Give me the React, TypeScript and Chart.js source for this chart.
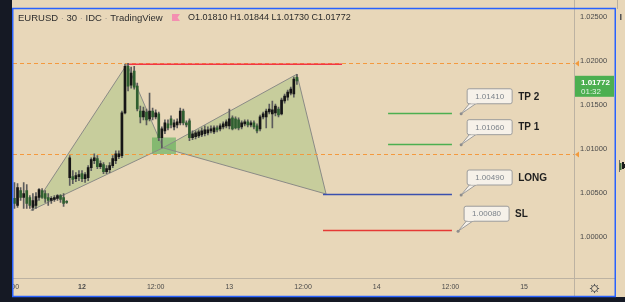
import React, { useEffect, useRef } from 'react';
import { Chart, registerables } from 'chart.js';

Chart.register(...registerables);

// ---------- data ----------
const SYMBOL_PARTS = ['EURUSD', '30', 'IDC', 'TradingView'];
const OHLC_TEXT = 'O1.01810 H1.01844 L1.01730 C1.01772';
const FIRST_SLOT = -22; // half-hour slots counted from 12 Oct 00:00

const opens = [
  1.0044, 1.00361, 1.0053, 1.00451, 1.0053, 1.00451, 1.00338, 1.00361, 1.00451, 1.0053,
  1.00496, 1.00451, 1.00417, 1.00428, 1.0044, 1.00473, 1.00451, 1.00406, 1.00676, 1.00687,
  1.00665, 1.00687, 1.00721, 1.00665, 1.00676, 1.00789, 1.00867, 1.0089, 1.008, 1.00822,
  1.00744, 1.00766, 1.00811, 1.00867, 1.00912, 1.00924, 1.01408, 1.01937, 1.01723, 1.01881,
  1.01712, 1.0143, 1.01363, 1.01419, 1.0134, 1.0143, 1.01363, 1.01397, 1.01127, 1.01205,
  1.01284, 1.0134, 1.0125, 1.01273, 1.01295, 1.0143, 1.01295, 1.01318, 1.01127, 1.01138,
  1.01149, 1.0116, 1.01172, 1.01183, 1.01205, 1.01194, 1.01239, 1.01228, 1.0125, 1.01262,
  1.01262, 1.01352, 1.0134, 1.01329, 1.0125, 1.01284, 1.01307, 1.01273, 1.01295, 1.01262,
  1.01228, 1.01363, 1.01363, 1.01419, 1.01397, 1.01408, 1.01453, 1.01397, 1.01543, 1.01588,
  1.01633, 1.01622, 1.0181,
];
const highs = [
  1.0062, 1.00608, 1.00563, 1.0062, 1.00597, 1.00473, 1.00496, 1.00507, 1.00552, 1.00552,
  1.0053, 1.00496, 1.00462, 1.00473, 1.00485, 1.00485, 1.00496, 1.00417, 1.00924, 1.00755,
  1.00732, 1.00755, 1.00755, 1.00732, 1.00811, 1.00901, 1.00946, 1.00924, 1.00867, 1.00845,
  1.00811, 1.00845, 1.00924, 1.0098, 1.0098, 1.0143, 1.0196, 1.01971, 1.01926, 1.01937,
  1.01746, 1.01487, 1.01475, 1.01453, 1.01633, 1.01464, 1.01442, 1.01419, 1.0125, 1.01329,
  1.01329, 1.01374, 1.01329, 1.0134, 1.01464, 1.01453, 1.01318, 1.0134, 1.01205, 1.01205,
  1.01217, 1.01239, 1.01262, 1.0125, 1.01262, 1.01262, 1.01262, 1.01284, 1.01307, 1.01329,
  1.01453, 1.01374, 1.01363, 1.01352, 1.01318, 1.01329, 1.01329, 1.01318, 1.01318, 1.01284,
  1.01385, 1.01419, 1.01453, 1.01509, 1.01543, 1.01509, 1.01475, 1.01577, 1.01622, 1.01667,
  1.01701, 1.01813, 1.01844,
];
const lows = [
  1.00327, 1.00338, 1.00417, 1.00327, 1.00327, 1.00327, 1.00304, 1.00327, 1.00417, 1.0044,
  1.00395, 1.00361, 1.00383, 1.00406, 1.00417, 1.00395, 1.0035, 1.00383, 1.00586, 1.00608,
  1.00631, 1.00642, 1.00631, 1.0062, 1.00642, 1.00755, 1.00834, 1.00777, 1.00777, 1.00721,
  1.00721, 1.00732, 1.00789, 1.00834, 1.0089, 1.00901, 1.01397, 1.01656, 1.01689, 1.01678,
  1.0143, 1.01295, 1.01329, 1.01273, 1.01318, 1.01329, 1.0134, 1.01093, 1.01013, 1.01172,
  1.01217, 1.01239, 1.01217, 1.01239, 1.01273, 1.01273, 1.0125, 1.01093, 1.01104, 1.01115,
  1.01127, 1.01138, 1.01149, 1.0116, 1.01183, 1.01172, 1.01194, 1.01205, 1.01228, 1.01239,
  1.01228, 1.01217, 1.01228, 1.01217, 1.01228, 1.01262, 1.0125, 1.0125, 1.01228, 1.01183,
  1.01205, 1.0134, 1.01239, 1.01397, 1.01239, 1.01374, 1.01363, 1.01385, 1.0152, 1.01554,
  1.01611, 1.01588, 1.0173,
];
const closes = [
  1.00383, 1.00563, 1.00451, 1.00496, 1.00383, 1.00361, 1.00417, 1.00462, 1.00541, 1.00451,
  1.0044, 1.00417, 1.0044, 1.00451, 1.00473, 1.00428, 1.00383, 1.00395, 1.00901, 1.00654,
  1.00699, 1.0071, 1.00665, 1.0071, 1.00789, 1.00879, 1.00901, 1.008, 1.00834, 1.00744,
  1.00777, 1.00811, 1.0089, 1.00946, 1.00946, 1.01408, 1.01937, 1.01712, 1.01858, 1.01701,
  1.01453, 1.01363, 1.0143, 1.01329, 1.0143, 1.01363, 1.01408, 1.01127, 1.01228, 1.01295,
  1.01239, 1.01273, 1.01295, 1.01307, 1.0143, 1.01295, 1.01273, 1.01127, 1.01172, 1.01183,
  1.01194, 1.01205, 1.01217, 1.01217, 1.01228, 1.01239, 1.01217, 1.01262, 1.01284, 1.01307,
  1.0134, 1.01228, 1.01239, 1.01239, 1.01295, 1.01307, 1.01273, 1.01295, 1.0125, 1.01205,
  1.01363, 1.01397, 1.0143, 1.01453, 1.01442, 1.01487, 1.01385, 1.01554, 1.01599, 1.01644,
  1.01678, 1.01791, 1.01772,
];

const timeTickSlots = [-24, 0, 24, 48, 72, 96, 120, 144];
const timeTickLabels = ['12:00', '12', '12:00', '13', '12:00', '14', '12:00', '15'];
const priceTicks = [1.0, 1.005, 1.01, 1.015, 1.02, 1.025];
const X_MIN = -22.48;
const X_MAX = 160.26;
const Y_MIN = 0.99539;
const Y_MAX = 1.02568;

const lastPrice = 1.01772;
const lastPriceText = '1.01772';
const countdownText = '01:32';

// XABCD pattern points (slot, price)
const patternSlots = [-16.6, 14.66, 26.4, 70, 79.5];
const patternPrices = [1.00304, 1.0196, 1.01013, 1.01847, 1.0049];
const zoneSlots = [22.8, 30.6];
const zonePrices = [1.0113, 1.00943];
const highLineSlots = [14.66, 84.7];
const highLinePrice = 1.0196;
const alertPrices = [1.01968, 1.00946];

const levelNames = ['TP 2', 'TP 1', 'LONG', 'SL'];
const levelPrices = [1.0141, 1.0106, 1.0049, 1.0008];
const levelStartSlots = [99.7, 99.7, 78.5, 78.5];
const levelEndSlots = [120.5, 120.5, 120.5, 120.5];
const calloutSlots = [123.5, 123.5, 123.5, 122.5];

// ---------- styles ----------
const FONT = '"Liberation Sans", Arial, sans-serif';
const BG = '#e8d7b9';
const UP = '#161616';
const DOWN = '#2f5f30';
const WICK = '#5c5c5c';
const levelColors = ['#4caf50', '#4caf50', '#3a4fae', '#e53935'];

const slots = opens.map((_, k) => FIRST_SLOT + k);

const bgPlugin = {
  id: 'tvBackground',
  beforeDraw(chart: any) {
    const { ctx, width, height } = chart;
    ctx.save();
    ctx.fillStyle = BG;
    ctx.fillRect(0, 0, width, height);
    ctx.restore();
  },
};

const drawingsPlugin = {
  id: 'tvDrawings',
  beforeDatasetsDraw(chart: any) {
    const { ctx, chartArea: a, scales } = chart;
    const X = (v: number) => scales.x.getPixelForValue(v);
    const Y = (v: number) => scales.y.getPixelForValue(v);
    ctx.save();
    ctx.beginPath();
    ctx.rect(a.left, a.top, a.right - a.left, a.bottom - a.top);
    ctx.clip();

    const pts = patternSlots.map((s, i) => [X(s), Y(patternPrices[i])]);
    ctx.fillStyle = 'rgba(130,185,95,0.32)';
    [[0, 1, 2], [2, 3, 4]].forEach((tri) => {
      ctx.beginPath();
      ctx.moveTo(pts[tri[0]][0], pts[tri[0]][1]);
      ctx.lineTo(pts[tri[1]][0], pts[tri[1]][1]);
      ctx.lineTo(pts[tri[2]][0], pts[tri[2]][1]);
      ctx.closePath();
      ctx.fill();
    });

    // zone box at B
    const zx0 = X(zoneSlots[0]);
    const zx1 = X(zoneSlots[1]);
    const zy0 = Y(zonePrices[0]);
    const zy1 = Y(zonePrices[1]);
    ctx.fillStyle = 'rgba(76,170,76,0.55)';
    ctx.fillRect(zx0, zy0, zx1 - zx0, zy1 - zy0);

    // pattern edges
    ctx.strokeStyle = '#8b8b86';
    ctx.lineWidth = 1;
    [[0, 1], [1, 2], [2, 0], [2, 3], [3, 4], [4, 2]].forEach(([p, q]) => {
      ctx.beginPath();
      ctx.moveTo(pts[p][0], pts[p][1]);
      ctx.lineTo(pts[q][0], pts[q][1]);
      ctx.stroke();
    });

    // alert lines
    ctx.strokeStyle = 'rgba(244,150,55,0.95)';
    ctx.setLineDash([4, 3]);
    alertPrices.forEach((p) => {
      const yy = Math.round(Y(p)) + 0.5;
      ctx.beginPath();
      ctx.moveTo(a.left, yy);
      ctx.lineTo(a.right, yy);
      ctx.stroke();
    });
    ctx.setLineDash([]);

    // high line
    ctx.strokeStyle = '#f23645';
    ctx.lineWidth = 1.6;
    const hy = Y(highLinePrice);
    ctx.beginPath();
    ctx.moveTo(X(highLineSlots[0]), hy);
    ctx.lineTo(X(highLineSlots[1]), hy);
    ctx.stroke();

    // levels
    ctx.lineWidth = 1.3;
    levelPrices.forEach((p, i) => {
      const yy = Math.round(Y(p)) + 0.5;
      ctx.strokeStyle = levelColors[i];
      ctx.beginPath();
      ctx.moveTo(X(levelStartSlots[i]), yy);
      ctx.lineTo(X(levelEndSlots[i]), yy);
      ctx.stroke();
    });
    ctx.restore();
  },
  afterDatasetsDraw(chart: any) {
    const { ctx, scales } = chart;
    const X = (v: number) => scales.x.getPixelForValue(v);
    const Y = (v: number) => scales.y.getPixelForValue(v);
    ctx.save();
    levelPrices.forEach((p, i) => {
      const dx = X(calloutSlots[i]);
      const dy = Y(p) + 1;
      const bx = dx + 6;
      const by = dy - 25;
      const bw = 45;
      const bh = 15;
      // tail
      ctx.fillStyle = '#f6f1e9';
      ctx.strokeStyle = '#9c9c9c';
      ctx.lineWidth = 1;
      ctx.beginPath();
      ctx.moveTo(bx + 3, by + bh - 1);
      ctx.lineTo(dx, dy);
      ctx.lineTo(bx + 10, by + bh - 1);
      ctx.closePath();
      ctx.fill();
      ctx.stroke();
      // box
      ctx.beginPath();
      const r = 2;
      ctx.moveTo(bx + r, by);
      ctx.lineTo(bx + bw - r, by);
      ctx.quadraticCurveTo(bx + bw, by, bx + bw, by + r);
      ctx.lineTo(bx + bw, by + bh - r);
      ctx.quadraticCurveTo(bx + bw, by + bh, bx + bw - r, by + bh);
      ctx.lineTo(bx + r, by + bh);
      ctx.quadraticCurveTo(bx, by + bh, bx, by + bh - r);
      ctx.lineTo(bx, by + r);
      ctx.quadraticCurveTo(bx, by, bx + r, by);
      ctx.closePath();
      ctx.fill();
      ctx.stroke();
      // cover tail joint
      ctx.fillStyle = '#f6f1e9';
      ctx.fillRect(bx + 3.5, by + bh - 1.5, 6, 1.2);
      // dot
      ctx.fillStyle = '#8d8d8d';
      ctx.beginPath();
      ctx.arc(dx, dy, 1.5, 0, Math.PI * 2);
      ctx.fill();
      // text
      ctx.fillStyle = '#7b828a';
      ctx.font = `8px ${FONT}`;
      ctx.textAlign = 'center';
      ctx.textBaseline = 'middle';
      ctx.fillText(p.toFixed(5), bx + bw / 2, by + bh / 2 + 0.5);
      ctx.fillStyle = '#1e1e1e';
      ctx.font = `bold 10px ${FONT}`;
      ctx.textAlign = 'left';
      ctx.fillText(levelNames[i], bx + bw + 6, by + bh / 2 + 0.5);
    });
    ctx.restore();
  },
};

const framePlugin = {
  id: 'tvFrame',
  afterDraw(chart: any) {
    const { ctx, chartArea: a, scales, width, height } = chart;
    const X = (v: number) => scales.x.getPixelForValue(v);
    const Y = (v: number) => scales.y.getPixelForValue(v);
    ctx.save();

    // separators
    ctx.strokeStyle = '#bcb2a2';
    ctx.lineWidth = 1;
    ctx.beginPath();
    ctx.moveTo(a.right + 0.5, 0);
    ctx.lineTo(a.right + 0.5, 296);
    ctx.moveTo(a.left, a.bottom + 0.5);
    ctx.lineTo(615, a.bottom + 0.5);
    ctx.stroke();

    // partial time label on the left edge
    ctx.fillStyle = '#4a4a4a';
    ctx.font = `7px ${FONT}`;
    ctx.textAlign = 'center';
    ctx.textBaseline = 'middle';
    ctx.fillText(timeTickLabels[0], X(timeTickSlots[0]) + 2, 287);

    // header
    ctx.textAlign = 'left';
    ctx.textBaseline = 'middle';
    ctx.font = `9.5px ${FONT}`;
    let hx = 18;
    SYMBOL_PARTS.forEach((t, i) => {
      ctx.fillStyle = '#2e2e2e';
      ctx.fillText(t, hx, 18);
      hx += ctx.measureText(t).width;
      if (i < SYMBOL_PARTS.length - 1) {
        ctx.fillStyle = '#a09a90';
        ctx.fillText(' · ', hx, 18);
        hx += ctx.measureText(' · ').width;
      }
    });
    // flag
    ctx.fillStyle = '#f48fb1';
    ctx.beginPath();
    ctx.moveTo(172, 14);
    ctx.lineTo(180, 14);
    ctx.lineTo(177.5, 17.5);
    ctx.lineTo(180, 21);
    ctx.lineTo(172, 21);
    ctx.closePath();
    ctx.fill();
    ctx.fillStyle = '#2a2a2a';
    ctx.font = `9px ${FONT}`;
    ctx.fillText(OHLC_TEXT, 188, 18);

    // alert markers on the price axis
    ctx.fillStyle = '#f39a3c';
    alertPrices.forEach((p) => {
      const yy = Math.round(Y(p)) + 0.5;
      ctx.beginPath();
      ctx.moveTo(a.right + 1, yy);
      ctx.lineTo(a.right + 5, yy - 3);
      ctx.lineTo(a.right + 5, yy + 3);
      ctx.closePath();
      ctx.fill();
    });

    // last price label
    const ly = Y(lastPrice);
    ctx.fillStyle = '#4caf50';
    ctx.fillRect(a.right + 1, ly - 5, 39, 21);
    ctx.fillStyle = '#ffffff';
    ctx.font = `bold 8px ${FONT}`;
    ctx.fillText(lastPriceText, a.right + 7, ly + 1.5);
    ctx.fillStyle = 'rgba(255,255,255,0.85)';
    ctx.font = `8px ${FONT}`;
    ctx.fillText(countdownText, a.right + 7, ly + 11);

    // gear icon
    const gx = 594.5;
    const gy = 288.5;
    ctx.strokeStyle = '#555555';
    ctx.lineWidth = 1;
    ctx.beginPath();
    ctx.arc(gx, gy, 3, 0, Math.PI * 2);
    ctx.stroke();
    for (let k = 0; k < 8; k++) {
      const ang = (k * Math.PI) / 4;
      ctx.beginPath();
      ctx.moveTo(gx + Math.cos(ang) * 3, gy + Math.sin(ang) * 3);
      ctx.lineTo(gx + Math.cos(ang) * 4.6, gy + Math.sin(ang) * 4.6);
      ctx.stroke();
    }

    // neighbouring panel on the right
    ctx.fillStyle = BG;
    ctx.fillRect(616, 0, width - 616, height);
    ctx.strokeStyle = '#b8ae9e';
    ctx.beginPath();
    ctx.moveTo(617.5, 0);
    ctx.lineTo(617.5, 9);
    ctx.stroke();
    ctx.fillStyle = '#555555';
    ctx.fillRect(620, 14, 1.5, 6);
    ctx.fillStyle = '#6a6a6a';
    ctx.fillRect(619, 160, 1, 12);
    ctx.fillStyle = '#3e6e3e';
    ctx.fillRect(619.5, 163, 2, 7);
    ctx.fillStyle = '#1a1a1a';
    ctx.fillRect(622, 162, 2, 7);
    ctx.fillRect(624, 164, 1, 4);

    // dark strips
    ctx.fillStyle = '#151924';
    ctx.fillRect(0, 0, 12, height);
    ctx.fillRect(0, 297, width, height - 297);

    // blue frame
    ctx.strokeStyle = '#2962ff';
    ctx.lineWidth = 1.5;
    ctx.strokeRect(12.75, 8.5, 602.5, 288);
    ctx.restore();
  },
};

export default function App() {
  const ref = useRef<HTMLCanvasElement>(null);
  useEffect(() => {
    document.body.style.margin = '0';
    const canvas = ref.current;
    if (!canvas) return;
    const bodyColors = closes.map((c, k) => (c >= opens[k] ? UP : DOWN));
    const chart = new Chart(canvas, {
      type: 'bar',
      data: {
        datasets: [
          {
            label: 'body',
            data: slots.map((s, k) => ({ x: s, y: [opens[k], closes[k]] })) as any,
            backgroundColor: bodyColors,
            borderWidth: 0,
            barThickness: 2,
            minBarLength: 1,
            grouped: false,
            order: 0,
          } as any,
          {
            label: 'wick',
            data: slots.map((s, k) => ({ x: s, y: [lows[k], highs[k]] })) as any,
            backgroundColor: WICK,
            borderWidth: 0,
            barThickness: 1,
            grouped: false,
            order: 1,
          } as any,
        ],
      },
      options: {
        responsive: false,
        animation: false,
        events: [],
        layout: { padding: { left: 13, top: 9, right: 10, bottom: 6 } },
        plugins: { legend: { display: false }, tooltip: { enabled: false } },
        scales: {
          x: {
            type: 'linear',
            min: X_MIN,
            max: X_MAX,
            offset: false,
            grid: { display: false, drawTicks: false },
            border: { display: false },
            afterBuildTicks: (s: any) => {
              s.ticks = timeTickSlots.filter((v) => v >= X_MIN && v <= X_MAX).map((v) => ({ value: v }));
            },
            afterFit: (s: any) => {
              s.height = 18;
            },
            ticks: {
              autoSkip: false,
              maxRotation: 0,
              minRotation: 0,
              padding: 5,
              color: '#4a4a4a',
              font: (c: any) => ({
                size: 7,
                family: FONT,
                weight: c.tick && c.tick.value === 0 ? 'bold' : 'normal',
              }),
              callback: (v: any) => timeTickLabels[timeTickSlots.indexOf(Number(v))],
            },
          } as any,
          y: {
            position: 'right',
            min: Y_MIN,
            max: Y_MAX,
            grid: { display: false, drawTicks: false },
            border: { display: false },
            afterBuildTicks: (s: any) => {
              s.ticks = priceTicks.map((v) => ({ value: v }));
            },
            afterFit: (s: any) => {
              s.width = 41;
            },
            ticks: {
              padding: 6,
              color: '#4a4a4a',
              font: { size: 7.5, family: FONT },
              callback: (v: any) => Number(v).toFixed(5),
            },
          } as any,
        },
      },
      plugins: [bgPlugin, drawingsPlugin, framePlugin],
    });
    return () => chart.destroy();
  }, []);
  return (
    <div style={{ width: 625, height: 302 }}>
      <canvas ref={ref} width={625} height={302} style={{ display: 'block' }} />
    </div>
  );
}
